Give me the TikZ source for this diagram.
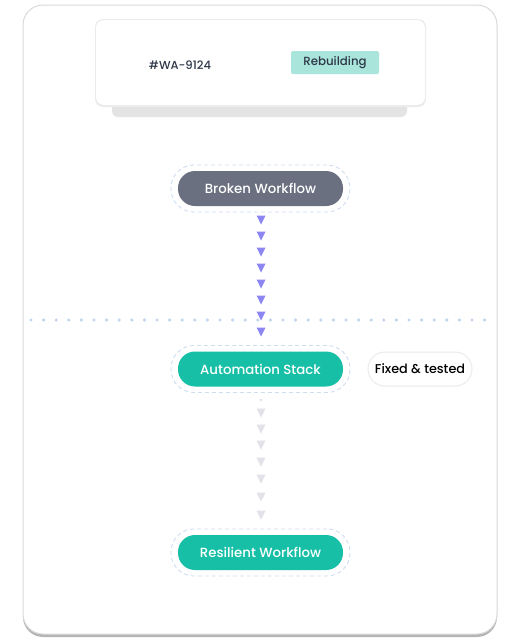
\documentclass[tikz,border=0pt]{standalone}
\usepackage{fontspec}
\setmainfont{Poppins}
\newfontfamily\medfont{Poppins Medium}
\usetikzlibrary{positioning}
\definecolor{frameline}{HTML}{D9D9D9}
\definecolor{frameshadow}{HTML}{B5B5B5}
\definecolor{navy}{HTML}{2D3748}
\definecolor{badgebg}{HTML}{A9E5DA}
\definecolor{slate}{HTML}{6B7080}
\definecolor{teal}{HTML}{17BFA6}
\definecolor{dashblue}{HTML}{CFDDF2}
\definecolor{dotblue}{HTML}{BFD3EC}
\definecolor{purple}{HTML}{8C86F5}
\definecolor{lightarrow}{HTML}{E2E2E8}
\definecolor{cardshadow}{HTML}{E4E4E4}
\tikzset{
  pill/.style={rounded corners=17pt, minimum width=165pt, minimum height=35pt, inner sep=0pt, text=white, font=\medfont\fontsize{13.3}{15}\selectfont},
  halo/.style={draw=dashblue, dashed, dash pattern=on 4pt off 3pt, line width=0.9pt, rounded corners=23pt, minimum width=179pt, minimum height=47pt, inner sep=0pt},
  tri/.style={fill=purple},
  trig/.style={fill=lightarrow},
}
\begin{document}
\begin{tikzpicture}[x=1pt,y=-1pt]
\useasboundingbox (0,0) rectangle (520,640);
\fill[white] (0,0) rectangle (520,640);
% outer frame
\fill[frameshadow, rounded corners=20pt] (23,7) rectangle (497,637);
\filldraw[fill=white, draw=frameline, line width=1pt, rounded corners=20pt] (23,5) rectangle (497,634);
% card
\fill[cardshadow, rounded corners=6pt] (112,95) rectangle (407,117);
\fill[black!8, rounded corners=8pt] (95,19) rectangle (426,107);
\fill[white, rounded corners=8pt] (96,20) rectangle (425,105);
\node[text=navy, font=\medfont\fontsize{11.6}{13}\selectfont] (id) at (180,65) {\#WA-9124};
\node[fill=badgebg, rounded corners=2pt, minimum width=88pt, minimum height=23pt, inner sep=0pt, text=navy, font=\medfont\fontsize{11.8}{13}\selectfont] (badge) at (335,62.5) {Rebuilding};
% dotted line
\foreach \i in {0,...,36} {\fill[dotblue] (31+12.6*\i,320) circle (1.7pt);}
% pills
\node[halo] (bh) at (260.5,188.5) {};
\node[pill, fill=slate] (broken) at (260.5,188.5) {Broken Workflow};
\node[halo] (ah) at (260.5,369) {};
\node[pill, fill=teal] (auto) at (260.5,369) {Automation Stack};
\node[halo] (rh) at (260.5,552.5) {};
\node[pill, fill=teal] (res) at (260.5,552.5) {Resilient Workflow};
\node[draw=black!8, line width=1pt, fill=white, rounded corners=17pt, minimum width=104pt, minimum height=34pt, inner sep=0pt, text=black, font=\medfont\fontsize{12.8}{14}\selectfont] (fixed) at (420,369) {Fixed \& tested};
% purple triangle connector
\foreach \y in {220,236,252,268,284,300,316,332} {
  \fill[tri] (256.5,\y-4.5) -- (265.5,\y-4.5) -- (261,\y+4.5) -- cycle;
}
% grey triangle connector
\fill[lightarrow] (261,400) circle (1.3pt);
\foreach \y in {413,429,445,462,479,497,515} {
  \fill[trig] (256.5,\y-4.5) -- (265.5,\y-4.5) -- (261,\y+4.5) -- cycle;
}
\end{tikzpicture}
\end{document}
